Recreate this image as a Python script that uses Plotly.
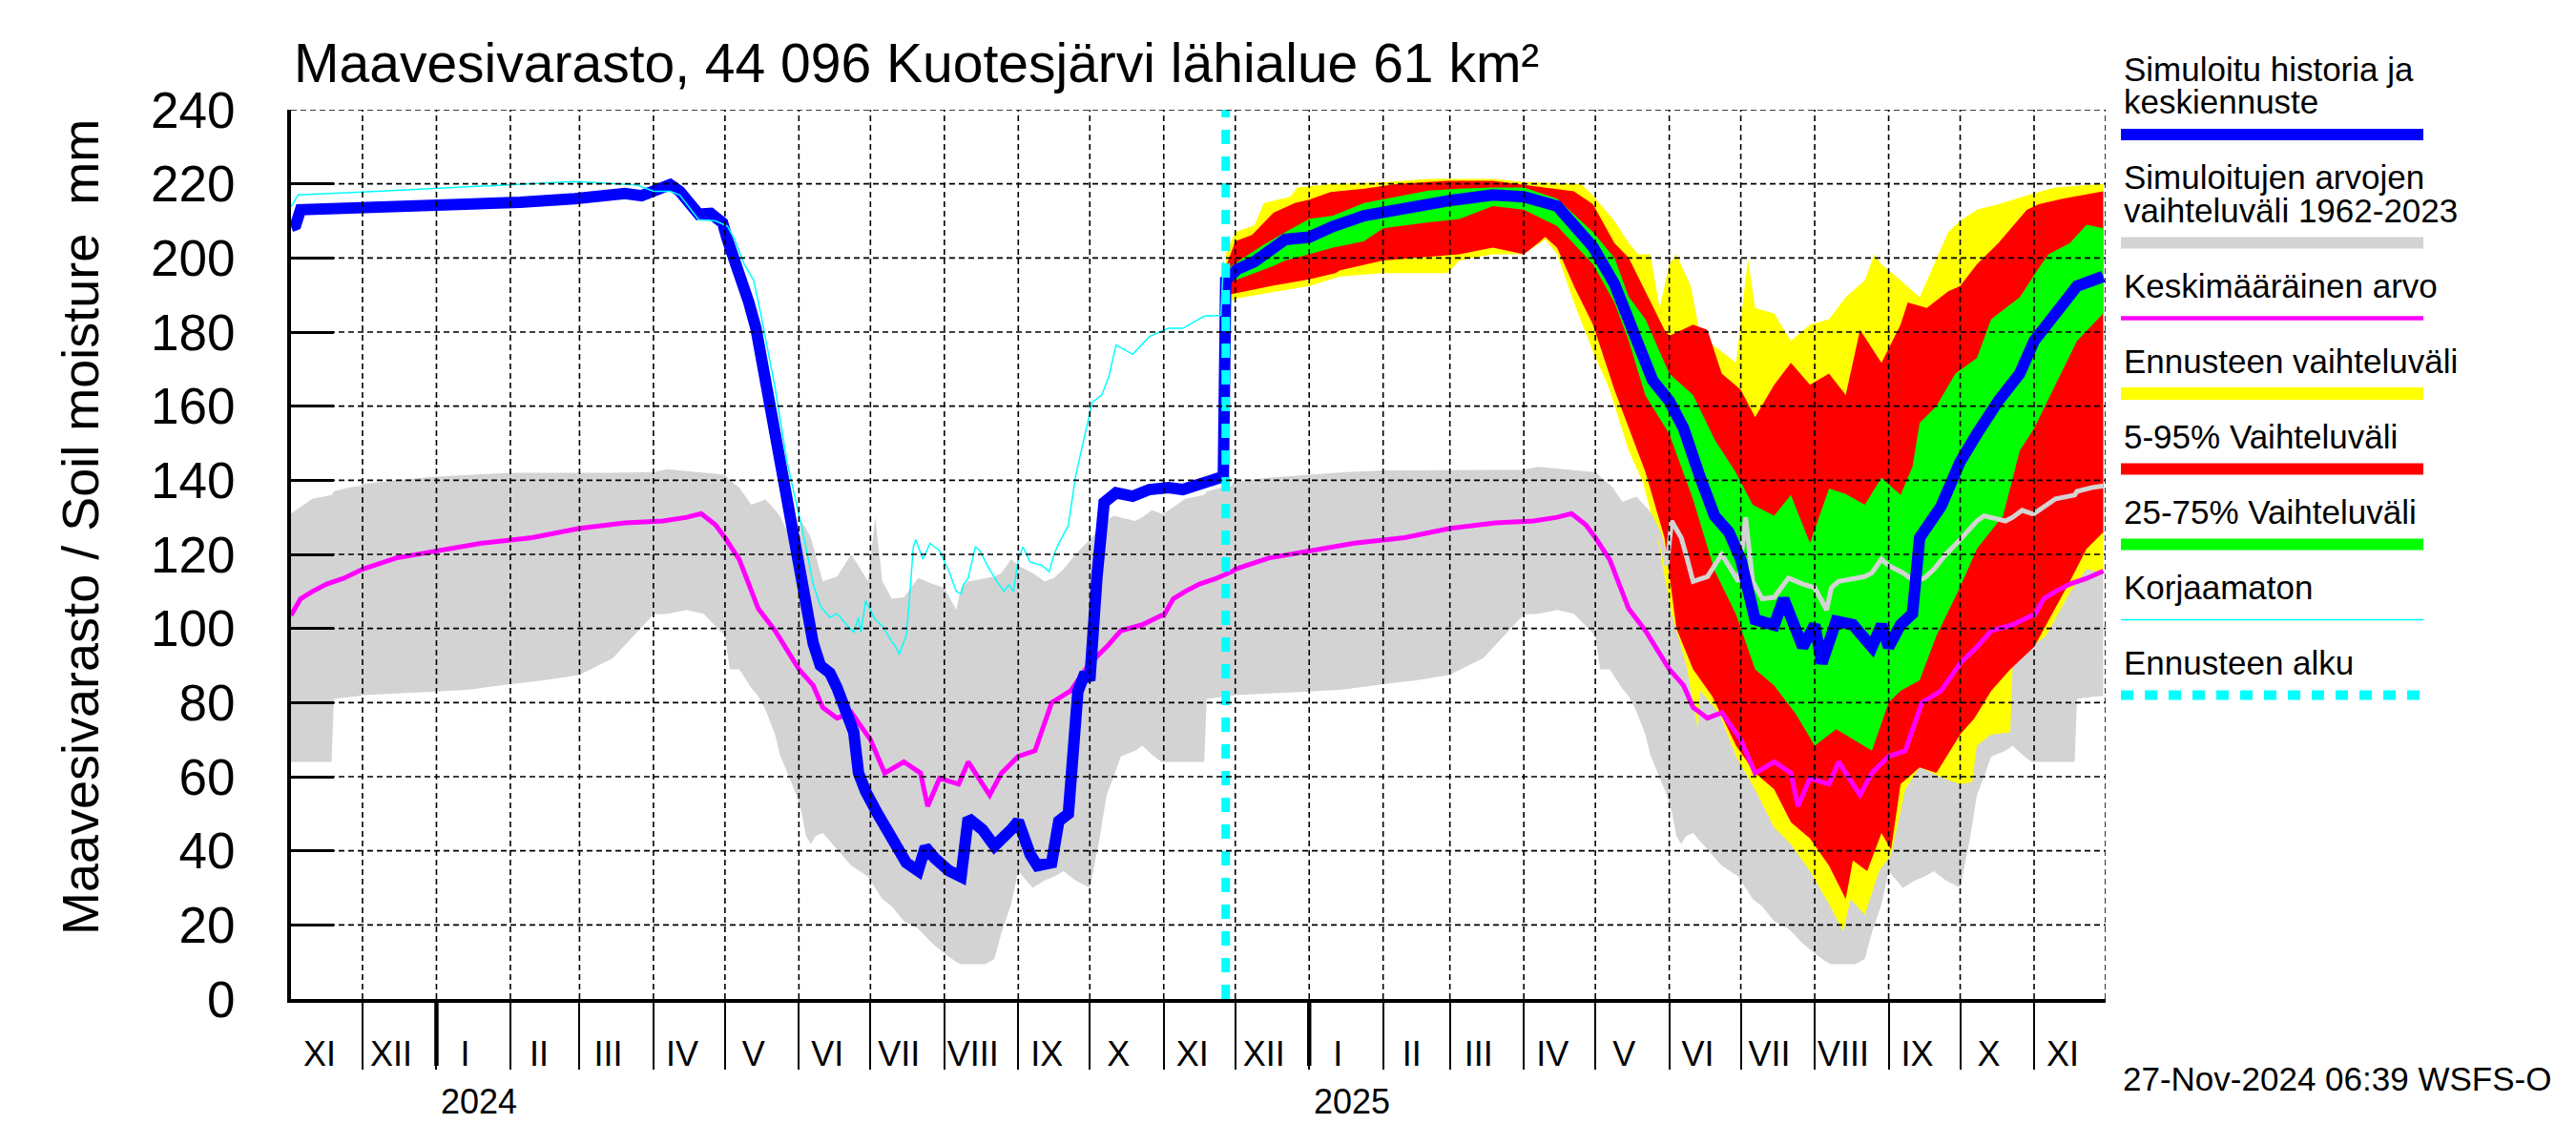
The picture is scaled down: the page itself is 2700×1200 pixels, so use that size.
import plotly.graph_objects as go

# ---------------- data ----------------
# simulated history (blue), daily soil moisture, mm
hist_dates = ["2023-11-01","2023-11-03","2023-11-05","2023-11-20","2023-12-15","2024-01-15","2024-02-05",
              "2024-02-28","2024-03-20","2024-03-27","2024-04-02","2024-04-08","2024-04-12","2024-04-18",
              "2024-04-20","2024-04-25","2024-04-30","2024-05-02","2024-05-07","2024-05-11","2024-05-14",
              "2024-05-20","2024-05-27","2024-06-03","2024-06-07","2024-06-10","2024-06-14","2024-06-17",
              "2024-06-21","2024-06-24","2024-06-26","2024-06-29","2024-07-04","2024-07-11","2024-07-16",
              "2024-07-21","2024-07-24","2024-07-28","2024-08-03","2024-08-08","2024-08-11","2024-08-17",
              "2024-08-22","2024-08-29","2024-09-01","2024-09-06","2024-09-09","2024-09-15","2024-09-18",
              "2024-09-22","2024-09-24","2024-09-26","2024-09-29","2024-10-01","2024-10-04","2024-10-07",
              "2024-10-12","2024-10-19","2024-10-26","2024-11-03","2024-11-09","2024-11-15","2024-11-26"]
hist_vals = [208.5,209.0,213.0,213.3,213.6,214.0,215.0,
             216.0,217.4,216.8,218.5,219.8,218.0,212.5,
             211.8,212.0,209.5,205.0,196.0,188.0,181.0,
             160.0,137.0,112.0,96.0,90.0,88.0,84.0,
             77.0,72.0,61.0,56.0,50.0,42.6,36.8,
             34.6,41.0,38.0,34.6,33.0,48.8,45.7,
             41.3,45.7,48.0,39.0,36.0,36.8,48.0,
             50.0,65.7,83.0,88.0,86.0,114.0,134.0,
             136.6,135.7,137.5,138.0,137.5,138.9,141.0]

# median forecast (blue, continuation)
fc_dates = ["2024-11-27","2024-12-02","2024-12-09","2024-12-16","2024-12-22","2025-01-01","2025-01-11",
            "2025-01-24","2025-02-07","2025-02-20","2025-03-01","2025-03-19","2025-04-01","2025-04-15",
            "2025-04-30","2025-05-09","2025-05-15","2025-05-22","2025-05-25","2025-06-01","2025-06-07",
            "2025-06-14","2025-06-20","2025-06-26","2025-07-01","2025-07-07","2025-07-15","2025-07-19",
            "2025-07-27","2025-08-01","2025-08-04","2025-08-10","2025-08-17","2025-08-25","2025-08-29",
            "2025-09-01","2025-09-06","2025-09-11","2025-09-14","2025-09-23","2025-10-01","2025-10-08",
            "2025-10-17","2025-10-26","2025-11-01","2025-11-10","2025-11-19","2025-11-30"]
fc_vals = [194.0,197.0,199.0,202.5,205.0,205.6,208.5,
           211.4,213.0,214.8,215.5,217.0,216.5,214.0,
           203.0,193.0,183.5,173.0,167.0,161.4,154.0,
           140.7,130.4,126.0,118.6,102.4,100.9,108.0,
           95.0,101.0,90.6,102.0,101.0,95.0,101.0,
           95.0,101.0,104.0,124.5,133.0,145.0,152.5,
           161.4,168.8,177.6,185.0,192.4,195.0]

# uncorrected simulation (thin cyan)
unc_dates = ["2023-11-01","2023-11-04","2023-12-01","2024-01-27","2024-02-28","2024-03-25","2024-04-01",
             "2024-04-08","2024-04-12","2024-04-20","2024-04-27","2024-05-02","2024-05-05","2024-05-09",
             "2024-05-13","2024-05-16","2024-05-22","2024-05-27","2024-06-03","2024-06-07","2024-06-10",
             "2024-06-14","2024-06-17","2024-06-21","2024-06-24","2024-06-26","2024-06-27","2024-06-29",
             "2024-07-03","2024-07-06","2024-07-10","2024-07-12","2024-07-13","2024-07-15","2024-07-16",
             "2024-07-17","2024-07-18","2024-07-19","2024-07-20","2024-07-23","2024-07-26","2024-07-30",
             "2024-08-03","2024-08-06","2024-08-08","2024-08-09","2024-08-11","2024-08-14","2024-08-16",
             "2024-08-19","2024-08-23","2024-08-26","2024-08-28","2024-08-30","2024-09-01","2024-09-03",
             "2024-09-06","2024-09-11","2024-09-14","2024-09-16","2024-09-18","2024-09-22","2024-09-25",
             "2024-09-29","2024-10-02","2024-10-06","2024-10-09","2024-10-12","2024-10-19","2024-10-26",
             "2024-11-03","2024-11-09","2024-11-18","2024-11-25","2024-11-26"]
unc_vals = [213.8,217.0,217.8,219.7,220.6,219.7,218.0,
            218.0,217.0,210.3,210.0,208.6,205.0,198.4,
            194.0,185.0,165.0,145.0,125.0,112.0,106.0,
            103.0,104.0,101.0,99.0,103.0,99.0,107.5,
            102.4,100.7,96.4,94.7,93.0,96.4,98.0,
            105.0,115.0,122.0,124.0,118.7,123.0,121.0,
            115.3,110.0,109.3,111.8,113.6,122.0,121.0,
            117.0,112.7,110.0,111.8,110.0,118.7,122.0,
            117.9,117.0,115.3,120.0,123.0,127.8,141.0,
            152.0,161.0,163.0,168.0,176.5,174.0,178.8,
            181.0,181.0,184.3,184.5,199.0]

# historical range 1962-2023 (grey band), by month-day
clim_md = ["11-01","11-10","11-18","11-19","11-25","11-30","12-01","12-15","01-01","01-15","02-01","02-15",
           "03-01","03-15","04-01","04-07","04-15","04-22","05-01","05-03","05-07","05-12","05-15","05-18",
           "05-22","05-24","05-28","05-31","06-02","06-04","06-06","06-08","06-11","06-17","06-23","06-30",
           "07-03","07-06","07-10","07-15","07-21","07-27","08-01","08-06","08-08","08-11","08-18","08-22",
           "08-25","08-29","09-01","09-07","09-12","09-16","09-20","09-25","10-01","10-05","10-08","10-11",
           "10-14","10-20","10-23","10-27","10-31"]
clim_upper = [131,135,136,137,138,138.5,139,140,141,141.5,142,142,
              142,142,142.2,143,142.5,142,141.5,140,138,133.4,134,134.8,
              132,130.4,125,117,129,127,124.5,120,112.7,114,120,112.7,
              130,112.7,108,108.4,113.6,112,111,105,111,112.7,113.6,114,
              115,118.7,117,115,112.7,113.6,116,120,124,127,129,130.4,
              130,129,130,131.9,131]
clim_lower = [64,64,64,81,81.5,81.8,82,82.5,83,83.5,85,86,
              87.5,92,103.8,104,105,104,98,89,89,84,81.7,78,
              71.4,66,59.6,55,50.7,44,41.8,44,44.8,40.3,36,33,
              30,27,25,21,19,15,12.3,10,9.4,9.4,9.4,10.8,
              18,25.6,34.5,30,32,33,34.5,32,30,43,55,60,
              65.5,67,68.4,66,64]

# long-term mean (magenta), by month-day
mean_md = ["11-01","11-05","11-10","11-16","11-23","11-30","12-01","12-15","01-01","01-20","02-10","03-01",
           "03-20","04-05","04-15","04-21","04-27","05-01","05-07","05-15","05-22","06-01","06-07","06-11",
           "06-17","06-23","07-01","07-07","07-15","07-22","07-25","07-30","08-07","08-11","08-20","08-25",
           "09-01","09-08","09-15","09-23","10-01","10-08","10-14","10-23","10-31"]
mean_vals = [103.5,108,110,112,113.5,115.5,116,119,121,123,124.5,127,
             128.5,129,130,131,128,124.5,118.6,105.3,99.4,89,84.6,78.7,
             75.8,77.3,70,61,64,61,52,59.6,58,64,55,61,
             65.5,67,80,83.2,90.6,95,99.4,101,103.5]

# forecast ranges
yel_up_d = ["2024-11-27","2024-12-01","2024-12-09","2024-12-13","2024-12-24","2024-12-27","2025-01-10",
            "2025-02-01","2025-02-20","2025-03-19","2025-04-01","2025-04-25","2025-04-30","2025-05-09",
            "2025-05-15","2025-05-19","2025-05-24","2025-05-28","2025-06-01","2025-06-04","2025-06-10",
            "2025-06-14","2025-06-23","2025-06-29","2025-07-04","2025-07-07","2025-07-15","2025-07-22",
            "2025-07-30","2025-08-07","2025-08-14","2025-08-22","2025-08-26","2025-08-29","2025-09-06",
            "2025-09-14","2025-09-26","2025-10-01","2025-10-08","2025-10-17","2025-11-01","2025-11-10",
            "2025-11-30"]
yel_up_v = [201,207,208.8,214.8,216.5,219,220,
            220.4,221.3,221.3,220.5,220,216.8,210,
            204,201,201,186.5,198.3,201,192.4,
            179,174.7,171.7,199.8,186.5,185,177.6,
            182,183.5,189.4,194,201,198.3,194,
            189.4,207,210,213,214.5,217.5,219,
            220]
yel_lo_d = ["2024-11-27","2024-12-01","2024-12-16","2025-01-01","2025-01-14","2025-02-01","2025-02-28",
            "2025-03-05","2025-03-19","2025-04-01","2025-04-10","2025-04-15","2025-04-22","2025-04-30",
            "2025-05-07","2025-05-15","2025-05-21","2025-05-27","2025-06-02","2025-06-08","2025-06-13",
            "2025-06-14","2025-06-22","2025-06-29","2025-07-07","2025-07-15","2025-07-22","2025-07-30",
            "2025-08-07","2025-08-13","2025-08-16","2025-08-22","2025-08-28","2025-09-02","2025-09-08",
            "2025-09-14","2025-09-24","2025-10-01","2025-10-06","2025-10-08","2025-10-14","2025-10-22",
            "2025-10-23","2025-10-26","2025-11-06","2025-11-16","2025-11-23","2025-11-30"]
yel_lo_v = [187.3,189,190.7,192.4,195,195.9,195.9,
            199.3,201,201,205,201,188,174.7,
            164.4,148,139.3,124.5,103.8,90.6,72.8,
            83.2,77,65.5,56.6,46.3,41.8,34.5,
            25.6,18.2,27,22.7,34.5,38.9,56.6,
            62.5,59.6,58,58.5,68.4,71.4,72,
            90,93,98,109.7,116,115]
red_up_d = ["2024-11-27","2024-12-01","2024-12-08","2024-12-13","2024-12-17","2024-12-26","2025-01-01",
            "2025-01-10","2025-01-24","2025-02-07","2025-02-28","2025-03-19","2025-04-01","2025-04-22",
            "2025-04-30","2025-05-09","2025-05-15","2025-05-22","2025-05-30","2025-06-01","2025-06-11",
            "2025-06-17","2025-06-23","2025-07-01","2025-07-07","2025-07-15","2025-07-22","2025-07-30",
            "2025-08-07","2025-08-14","2025-08-20","2025-08-29","2025-09-06","2025-09-09","2025-09-17",
            "2025-09-26","2025-10-01","2025-10-08","2025-10-17","2025-10-29","2025-11-03","2025-11-13",
            "2025-11-30"]
red_up_v = [197.6,204.5,206.2,209.6,212.2,214.8,215.7,
            217.8,218.7,220,220.8,220.8,219.7,218,
            214.5,204,200,191,180.6,179,182,
            180.6,168.8,164.4,157,165.8,171.7,165.8,
            168.8,163,180.6,171.7,182,188,186.5,
            191,192.4,198.3,204,213,214.5,216,
            218]
red_lo_d = ["2024-11-27","2024-12-02","2024-12-16","2025-01-01","2025-01-12","2025-01-14","2025-02-01",
            "2025-03-05","2025-03-19","2025-04-01","2025-04-07","2025-04-10","2025-04-15","2025-04-22",
            "2025-04-30","2025-05-09","2025-05-15","2025-05-22","2025-05-30","2025-06-01","2025-06-04",
            "2025-06-11","2025-06-19","2025-06-29","2025-07-07","2025-07-15","2025-07-22","2025-07-30",
            "2025-08-07","2025-08-14","2025-08-17","2025-08-23","2025-08-29","2025-09-02","2025-09-06",
            "2025-09-14","2025-09-21","2025-10-01","2025-10-07","2025-10-14","2025-10-22","2025-11-01",
            "2025-11-06","2025-11-16","2025-11-23","2025-11-30"]
red_lo_v = [189.9,190.7,192.4,194.2,195.9,196.7,199.3,
            201,202.8,201,204,205.7,202.7,192.4,
            182,164.4,154,142.2,124.5,114,100,
            89,81.7,68.4,61,56.6,47.7,43.3,
            36,27,37.4,34.5,44.8,40.3,58,
            62.5,61,71.4,75.8,83.2,89,95,
            101,112.7,121.5,126]
grn_up_d = ["2024-11-27","2024-12-02","2024-12-13","2024-12-22","2025-01-01","2025-01-11","2025-01-24",
            "2025-02-07","2025-02-20","2025-03-05","2025-03-19","2025-04-01","2025-04-15","2025-04-30",
            "2025-05-09","2025-05-15","2025-05-22","2025-06-01","2025-06-11","2025-06-20","2025-06-29",
            "2025-07-06","2025-07-15","2025-07-22","2025-07-30","2025-08-07","2025-08-14","2025-08-22",
            "2025-08-29","2025-09-06","2025-09-11","2025-09-14","2025-09-21","2025-09-29","2025-10-08",
            "2025-10-14","2025-10-26","2025-11-01","2025-11-07","2025-11-16","2025-11-23","2025-11-30"]
grn_up_v = [196.7,199,203.6,207,210.5,211.4,214.8,
            216.5,218.2,218.7,219,219,216,207,
            200,189.5,183.5,168.8,163,151,142,
            133.4,130.4,136,123,137.8,136.3,133.4,
            140.7,136,143.7,155.5,160,168.8,173,
            183.5,189.4,195.4,201,204,209,208]
grn_lo_d = ["2024-11-27","2024-12-02","2024-12-09","2024-12-16","2024-12-22","2025-01-01","2025-01-11",
            "2025-01-24","2025-02-01","2025-02-20","2025-03-05","2025-03-19","2025-04-01","2025-04-15",
            "2025-04-30","2025-05-09","2025-05-15","2025-05-22","2025-06-01","2025-06-11","2025-06-20",
            "2025-06-29","2025-07-07","2025-07-15","2025-07-24","2025-08-01","2025-08-10","2025-08-17",
            "2025-08-25","2025-09-01","2025-09-06","2025-09-14","2025-09-21","2025-10-01","2025-10-08",
            "2025-10-19","2025-10-26","2025-11-01","2025-11-10","2025-11-19","2025-11-30"]
grn_lo_v = [193.3,194.2,196,197.6,199.3,201,202.8,
            204.5,208,209.6,210.5,214,213,208.6,
            198.3,188,177.6,162.9,152.5,134.8,115.6,
            103.8,89,84.6,77,68.4,72.8,70,
            67,80,83.2,86,98,111.2,121.5,
            130.4,148,154,165.8,177.6,185]

forecast_start = "2024-11-27"
x_start, x_end = "2023-11-01", "2025-12-01"
y_ticks = [0, 20, 40, 60, 80, 100, 120, 140, 160, 180, 200, 220, 240]
month_labels = ["XI","XII","I","II","III","IV","V","VI","VII","VIII","IX","X","XI",
                "XII","I","II","III","IV","V","VI","VII","VIII","IX","X","XI"]
year_labels = ["2024", "2025"]
year_starts = ["2024-01-01", "2025-01-01"]

title_text = "Maavesivarasto, 44 096 Kuotesjärvi lähialue 61 km²"
ylabel_text = "Maavesivarasto / Soil moisture" + "\u00a0" * 2 + "mm"
stamp_text = "27-Nov-2024 06:39 WSFS-O"

legend_items = [
    (["Simuloitu historia ja", "keskiennuste"], "#0000FF", 12, None),
    (["Simuloitujen arvojen", "vaihteluväli 1962-2023"], "#D3D3D3", 12, None),
    (["Keskimääräinen arvo"], "#FF00FF", 4.5, None),
    (["Ennusteen vaihteluväli"], "#FFFF00", 13, None),
    (["5-95% Vaihteluväli"], "#FF0000", 12, None),
    (["25-75% Vaihteluväli"], "#00FF00", 12, None),
    (["Korjaamaton"], "#00FFFF", 1.5, None),
    (["Ennusteen alku"], "#00FFFF", 10, "13px,12px"),
]

# ---------------- helpers ----------------
# the page body has an 8 px margin, so the figure is made 8 px smaller than the window
W, H = 2692, 1192
ML, MR, MT, MB = 297, 493, 107, 153
PW, PH = W - ML - MR, H - MT - MB
PLOT_LEFT, PLOT_BOTTOM = 8 + ML, 8 + H - MB    # screen pixels
SANS = "Liberation Sans, Arial, Helvetica, sans-serif"


def px_x(px):
    return (px - PLOT_LEFT) / PW


def px_y(py):
    return (PLOT_BOTTOM - py) / PH


def expand(md, vals):
    pts = []
    for yr in (2023, 2024, 2025):
        for m, v in zip(md, vals):
            d = f"{yr}-{m}"
            if x_start <= d <= "2025-11-30":
                pts.append((d, v))
    pts.sort()
    return [p[0] for p in pts], [p[1] for p in pts]


def month_list(y0, m0, y1, m1, day):
    out = []
    y, m = y0, m0
    while (y, m) <= (y1, m1):
        out.append(f"{y}-{m:02d}-{day:02d}")
        m += 1
        if m > 12:
            m, y = 1, y + 1
    return out


clim_d, clim_up = expand(clim_md, clim_upper)
_, clim_lo = expand(clim_md, clim_lower)
mean_d, mean_v = expand(mean_md, mean_vals)

fig = go.Figure()


def band(xu, yu, xl, yl, color):
    fig.add_trace(go.Scatter(x=xu + xl[::-1], y=yu + yl[::-1], fill="toself", fillcolor=color,
                             mode="lines", line=dict(width=0, color=color), hoverinfo="skip"))


band(clim_d, clim_up, clim_d, clim_lo, "#D3D3D3")
band(yel_up_d, yel_up_v, yel_lo_d, yel_lo_v, "#FFFF00")
band(red_up_d, red_up_v, red_lo_d, red_lo_v, "#FF0000")
band(grn_up_d, grn_up_v, grn_lo_d, grn_lo_v, "#00FF00")

# upper edge of historical range drawn over the forecast area
gl = [(d, v) for d, v in zip(clim_d, clim_up) if d >= forecast_start]
fig.add_trace(go.Scatter(x=[p[0] for p in gl], y=[p[1] for p in gl], mode="lines",
                         line=dict(color="#D3D3D3", width=5)))
fig.add_trace(go.Scatter(x=mean_d, y=mean_v, mode="lines", line=dict(color="#FF00FF", width=5)))
fig.add_trace(go.Scatter(x=hist_dates + fc_dates, y=hist_vals + fc_vals, mode="lines",
                         line=dict(color="#0000FF", width=12)))
fig.add_trace(go.Scatter(x=unc_dates, y=unc_vals, mode="lines", line=dict(color="#00FFFF", width=1.5)))
fig.add_trace(go.Scatter(x=[forecast_start, forecast_start], y=[0, 240], mode="lines",
                         line=dict(color="#00FFFF", width=9, dash="15px,13px")))

shapes = []
for d in month_list(2023, 12, 2025, 12, 1):
    shapes.append(dict(type="line", xref="x", yref="y", x0=d, x1=d, y0=0, y1=240, layer="above",
                       line=dict(color="black", width=1.6, dash="6px,4px")))
for v in y_ticks[1:]:
    shapes.append(dict(type="line", xref="paper", yref="y", x0=0, x1=1, y0=v, y1=v, layer="above",
                       line=dict(color="black", width=1.6, dash="6px,4px")))
for d in year_starts:
    shapes.append(dict(type="line", xref="x", yref="paper", x0=d, x1=d, y0=0, y1=-70 / PH,
                       layer="above", line=dict(color="black", width=4.5)))

annotations = [
    dict(text=title_text, xref="paper", yref="paper", x=px_x(306), y=px_y(66), xanchor="left",
         yanchor="middle", showarrow=False, font=dict(family=SANS, size=57, color="black")),
    dict(text=ylabel_text, xref="paper", yref="paper", x=px_x(84), y=px_y(553), xanchor="center",
         yanchor="middle", textangle=-90, showarrow=False, font=dict(family=SANS, size=54, color="black")),
    dict(text=stamp_text, xref="paper", yref="paper", x=px_x(2223), y=px_y(1130), xanchor="left",
         yanchor="middle", showarrow=False, font=dict(family=SANS, size=35, color="black")),
]
for d, t in zip(year_starts, year_labels):
    annotations.append(dict(text=t, xref="x", yref="paper", x=d, y=px_y(1154), xanchor="left",
                            xshift=3, yanchor="middle", showarrow=False,
                            font=dict(family=SANS, size=36, color="black")))

# legend (drawn at the right of the plot)
ly = 72
LX0, LX1 = 2223, 2540
for lines, color, width, dash in legend_items:
    for t in lines:
        annotations.append(dict(text=t, xref="paper", yref="paper", x=px_x(2224), y=px_y(ly),
                                xanchor="left", yanchor="middle", showarrow=False,
                                font=dict(family=SANS, size=35, color="black")))
        ly += 34.5
    shapes.append(dict(type="line", xref="paper", yref="paper", x0=px_x(LX0), x1=px_x(LX1),
                       y0=px_y(ly), y1=px_y(ly), layer="above",
                       line=dict(color=color, width=width, dash=dash if dash else "solid")))
    ly += 44.5

fig.update_layout(
    width=W, height=H,
    margin=dict(l=ML, r=MR, t=MT, b=MB, pad=0),
    paper_bgcolor="white", plot_bgcolor="white",
    showlegend=False,
    font=dict(family=SANS, color="black"),
    shapes=shapes, annotations=annotations,
    xaxis=dict(type="date", range=[x_start, x_end], showgrid=False, zeroline=False,
               showline=True, linecolor="black", linewidth=4,
               tickmode="array", tickvals=month_list(2023, 11, 2025, 11, 13), ticktext=month_labels,
               ticks="", tickfont=dict(family=SANS, size=36, color="black"), ticklabelstandoff=23,
               minor=dict(tickmode="array", tickvals=month_list(2023, 12, 2025, 11, 1), ticks="outside",
                          ticklen=70, tickwidth=1.5, tickcolor="black", showgrid=False)),
    yaxis=dict(range=[0, 240], tickmode="array", tickvals=y_ticks, ticks="inside", ticklen=45,
               tickwidth=3, tickcolor="black", showline=True, linecolor="black", linewidth=4,
               showgrid=False, zeroline=False, tickfont=dict(family=SANS, size=53, color="black"),
               ticklabelstandoff=44),
)

fig.write_html("out.html")
